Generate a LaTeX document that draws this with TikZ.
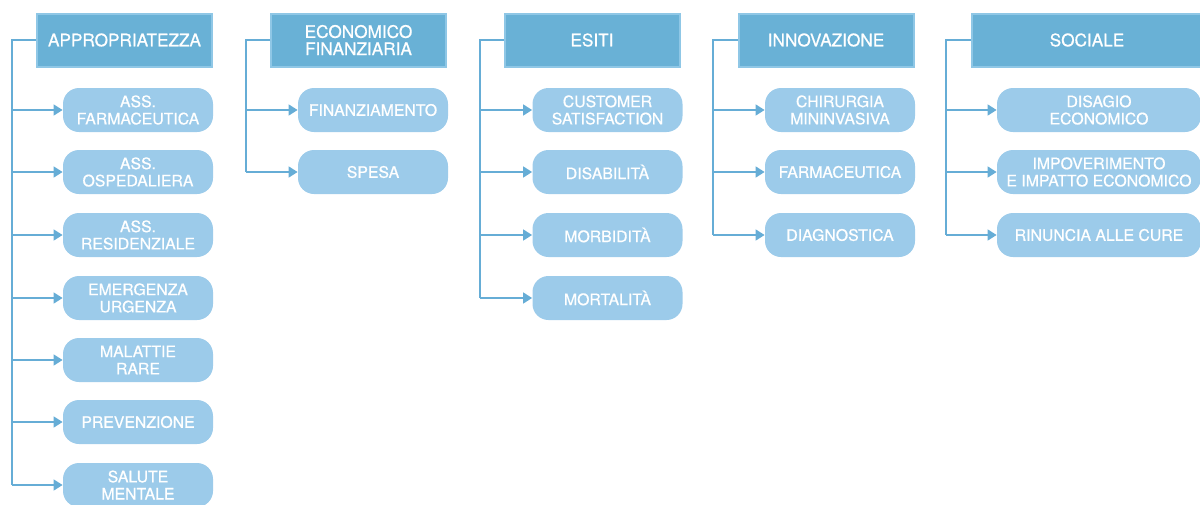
\documentclass[tikz,border=0pt]{standalone}
\usepackage{fontspec}
\setmainfont{TeX Gyre Heros}[FakeBold=0.7]
\usepackage{tikz}
\usetikzlibrary{arrows.meta,positioning,calc}

\definecolor{hdrblue}{HTML}{69B1D6}
\definecolor{hdredge}{HTML}{8FC7E6}
\definecolor{leafblue}{HTML}{9CCBEA}
\definecolor{linkblue}{HTML}{66ADD6}

\tikzset{
  area/.style={draw=hdredge, line width=1pt, fill=hdrblue, text=white,
    minimum width=87.5pt, minimum height=26.5pt, align=center,
    font=\fontsize{8.6}{8.6}\selectfont, inner sep=1pt},
  leaf/.style={fill=leafblue, text=white, rounded corners=8pt,
    minimum width=75pt, minimum height=22pt, align=center,
    font=\fontsize{7.9}{8.6}\selectfont, inner sep=1pt},
  trunk/.style={draw=linkblue, line width=0.8pt},
  link/.style={trunk, -{Triangle[length=4.5pt,width=5.5pt]}}
}

\begin{document}
\begin{tikzpicture}[x=0.5pt,y=-0.5pt]
    \clip (0,0) rectangle (1200,504);
    \useasboundingbox (0,0) rectangle (1200,504);

    % Column 1: appropriatezza
    \node[area] (app) at (124.5,40) {APPROPRIATEZZA};
    \coordinate (t1) at (12,40);
    \node[leaf] (app1) at (138,110) {ASS.\\FARMACEUTICA};
    \node[leaf] (app2) at (138,172) {ASS.\\OSPEDALIERA};
    \node[leaf] (app3) at (138,235) {ASS.\\RESIDENZIALE};
    \node[leaf] (app4) at (138,298) {EMERGENZA\\URGENZA};
    \node[leaf] (app5) at (138,360) {MALATTIE\\RARE};
    \node[leaf] (app6) at (138,422) {PREVENZIONE};
    \node[leaf] (app7) at (138,485) {SALUTE\\MENTALE};
    \draw[trunk] (app.west) -- (t1) -- (t1 |- app7);
    \draw[link] (t1 |- app1) -- (app1);
    \draw[link] (t1 |- app2) -- (app2);
    \draw[link] (t1 |- app3) -- (app3);
    \draw[link] (t1 |- app4) -- (app4);
    \draw[link] (t1 |- app5) -- (app5);
    \draw[link] (t1 |- app6) -- (app6);
    \draw[link] (t1 |- app7) -- (app7);

    % Column 2: economico finanziaria
    \node[area] (eco) at (358.5,40) {ECONOMICO\\FINANZIARIA};
    \coordinate (t2) at (246,40);
    \node[leaf] (eco1) at (373,110) {FINANZIAMENTO};
    \node[leaf] (eco2) at (373,172) {SPESA};
    \draw[trunk] (eco.west) -- (t2) -- (t2 |- eco2);
    \draw[link] (t2 |- eco1) -- (eco1);
    \draw[link] (t2 |- eco2) -- (eco2);

    % Column 3: esiti
    \node[area] (esi) at (592,40) {ESITI};
    \coordinate (t3) at (480,40);
    \node[leaf] (esi1) at (607.5,110) {CUSTOMER\\SATISFACTION};
    \node[leaf] (esi2) at (607.5,172) {DISABILITÀ};
    \node[leaf] (esi3) at (607.5,235) {MORBIDITÀ};
    \node[leaf] (esi4) at (607.5,298) {MORTALITÀ};
    \draw[trunk] (esi.west) -- (t3) -- (t3 |- esi4);
    \draw[link] (t3 |- esi1) -- (esi1);
    \draw[link] (t3 |- esi2) -- (esi2);
    \draw[link] (t3 |- esi3) -- (esi3);
    \draw[link] (t3 |- esi4) -- (esi4);

    % Column 4: innovazione
    \node[area] (inn) at (826,40) {INNOVAZIONE};
    \coordinate (t4) at (713,40);
    \node[leaf] (inn1) at (840,110) {CHIRURGIA\\MININVASIVA};
    \node[leaf] (inn2) at (840,172) {FARMACEUTICA};
    \node[leaf] (inn3) at (840,235) {DIAGNOSTICA};
    \draw[trunk] (inn.west) -- (t4) -- (t4 |- inn3);
    \draw[link] (t4 |- inn1) -- (inn1);
    \draw[link] (t4 |- inn2) -- (inn2);
    \draw[link] (t4 |- inn3) -- (inn3);

    % Column 5: sociale (wider, runs off the page)
    \node[area, minimum width=115pt] (soc) at (1087,40) {SOCIALE};
    \coordinate (t5) at (946,40);
    \node[leaf, minimum width=102pt] (soc1) at (1099,110) {DISAGIO\\ECONOMICO};
    \node[leaf, minimum width=102pt] (soc2) at (1099,172) {IMPOVERIMENTO\\E IMPATTO ECONOMICO};
    \node[leaf, minimum width=102pt] (soc3) at (1099,235) {RINUNCIA ALLE CURE};
    \draw[trunk] (soc.west) -- (t5) -- (t5 |- soc3);
    \draw[link] (t5 |- soc1) -- (soc1);
    \draw[link] (t5 |- soc2) -- (soc2);
    \draw[link] (t5 |- soc3) -- (soc3);
\end{tikzpicture}
\end{document}
